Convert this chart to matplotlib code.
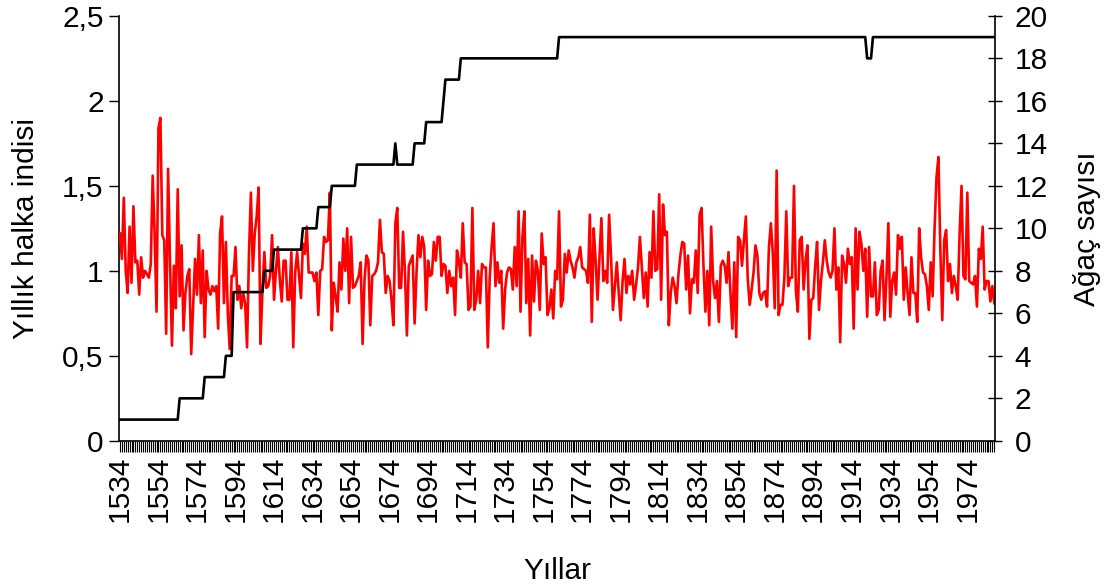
import numpy as np
import matplotlib
matplotlib.use("Agg")
import matplotlib.pyplot as plt
from matplotlib.ticker import FuncFormatter, MultipleLocator

plt.rcParams['font.family'] = ['Liberation Sans', 'DejaVu Sans']

# yearly ring index (1534 - 1988), one row per decade
ring = [
    1.22, 1.07, 1.43, 1.00, 0.87, 1.26,                              # 1534-1539
    0.93, 1.38, 1.05, 1.06, 0.86, 1.08, 0.96, 1.00, 0.98, 0.96,      # 1540
    1.04, 1.56, 1.22, 0.76, 1.84, 1.90, 1.21, 1.18, 0.63, 1.60,      # 1550
    1.05, 0.56, 1.03, 0.78, 1.48, 0.85, 1.15, 0.65, 0.87, 0.97,      # 1560
    1.01, 0.51, 0.79, 1.07, 0.86, 1.21, 0.81, 1.12, 0.61, 1.00,      # 1570
    0.89, 0.86, 0.91, 0.88, 0.91, 0.66, 1.22, 1.32, 0.81, 1.17,      # 1580
    0.75, 0.54, 0.97, 0.97, 1.14, 0.83, 0.91, 0.78, 0.87, 0.81,      # 1590
    0.55, 1.10, 1.46, 1.00, 1.22, 1.32, 1.49, 0.57, 0.89, 1.11,      # 1600
    0.90, 0.91, 0.97, 1.21, 0.83, 1.00, 1.14, 0.95, 0.82, 1.06,      # 1610
    1.06, 0.83, 0.83, 1.11, 0.55, 0.99, 1.11, 0.97, 0.84, 1.16,      # 1620
    1.10, 1.26, 0.99, 0.99, 0.99, 0.94, 0.99, 0.74, 1.00, 1.01,      # 1630
    1.20, 1.17, 1.18, 1.46, 0.65, 0.93, 0.85, 0.76, 1.05, 0.89,      # 1640
    1.19, 1.00, 1.25, 0.81, 1.20, 0.90, 0.91, 0.94, 0.97, 1.05,      # 1650
    0.57, 0.95, 1.09, 1.06, 0.68, 0.97, 0.98, 1.00, 1.05, 1.30,      # 1660
    1.11, 1.10, 0.87, 0.97, 0.94, 0.83, 0.68, 1.28, 1.37, 0.90,      # 1670
    0.90, 1.23, 0.99, 0.62, 1.03, 1.06, 1.09, 0.69, 0.99, 1.21,      # 1680
    1.08, 1.20, 1.14, 0.77, 1.06, 0.97, 0.98, 1.17, 1.06, 1.20,      # 1690
    1.20, 0.97, 1.04, 1.03, 0.87, 1.00, 0.91, 0.96, 0.74, 1.12,      # 1700
    1.06, 0.96, 1.28, 1.05, 1.04, 0.77, 0.79, 1.37, 0.77, 0.83,      # 1710
    1.00, 0.81, 1.04, 1.02, 1.02, 0.55, 0.96, 1.14, 1.28, 0.91,      # 1720
    1.05, 0.93, 1.00, 0.66, 0.89, 0.99, 1.02, 1.01, 0.89, 1.14,      # 1730
    0.91, 1.35, 0.76, 1.20, 1.35, 0.81, 1.07, 0.62, 1.09, 0.82,      # 1740
    1.06, 1.00, 0.77, 1.22, 1.04, 1.08, 0.74, 0.78, 0.89, 0.72,      # 1750
    1.00, 0.95, 1.35, 0.79, 0.83, 1.10, 0.99, 1.12, 1.06, 1.02,      # 1760
    0.96, 1.05, 1.08, 1.14, 1.02, 1.01, 1.00, 0.93, 1.33, 0.70,      # 1770
    1.25, 1.06, 0.83, 1.08, 1.31, 0.94, 1.00, 0.93, 1.33, 1.08,      # 1780
    0.77, 0.91, 1.05, 0.87, 0.71, 0.94, 1.07, 0.87, 0.97, 0.92,      # 1790
    1.00, 0.83, 0.92, 1.02, 1.20, 1.02, 0.84, 0.99, 0.79, 1.11,      # 1800
    0.96, 1.35, 1.00, 1.01, 1.45, 0.83, 1.39, 1.21, 1.23, 0.68,      # 1810
    0.87, 0.96, 0.91, 0.81, 0.98, 1.09, 1.17, 1.16, 0.89, 1.09,      # 1820
    0.75, 0.95, 0.93, 1.12, 0.87, 1.33, 1.37, 1.03, 0.76, 1.00,      # 1830
    0.68, 1.26, 0.94, 0.84, 0.94, 0.70, 1.03, 1.06, 1.03, 0.93,      # 1840
    1.11, 0.87, 0.66, 1.05, 0.61, 1.20, 1.18, 1.03, 1.18, 1.32,      # 1850
    0.95, 0.80, 0.89, 0.99, 1.15, 1.09, 0.87, 0.83, 0.87, 0.88,      # 1860
    0.79, 1.14, 1.28, 1.10, 0.78, 1.59, 0.74, 0.80, 0.80, 0.96,      # 1870
    1.35, 0.91, 0.96, 0.96, 1.50, 0.88, 0.76, 1.18, 1.20, 0.89,      # 1880
    1.06, 1.15, 0.60, 0.83, 0.84, 1.03, 1.17, 0.77, 0.94, 1.05,      # 1890
    1.18, 1.06, 0.99, 0.96, 1.00, 1.25, 0.89, 1.02, 0.58, 1.09,      # 1900
    1.04, 0.93, 1.13, 1.04, 1.08, 0.66, 1.25, 0.89, 1.23, 1.16,      # 1910
    1.00, 1.13, 0.73, 1.14, 0.85, 0.85, 1.05, 0.74, 0.77, 1.00,      # 1920
    1.06, 0.71, 0.96, 1.28, 0.73, 0.94, 0.99, 0.86, 1.21, 1.13,      # 1930
    1.20, 0.83, 1.02, 0.87, 0.74, 1.08, 0.87, 0.87, 0.70, 1.25,      # 1940
    1.08, 0.99, 0.98, 0.91, 0.77, 1.05, 0.85, 1.25, 1.55, 1.67,      # 1950
    1.12, 0.71, 1.18, 1.24, 0.94, 1.04, 0.87, 0.97, 0.91, 0.83,      # 1960
    1.22, 1.50, 0.97, 0.95, 1.46, 0.94, 0.93, 0.92, 0.97, 0.79,      # 1970
    1.13, 1.07, 1.26, 0.89, 0.94, 0.94, 0.82, 0.91, 0.81,            # 1980-1988
]

# number of trees: first year of each run and the count in that run
run_start = [1534, 1565, 1578, 1589, 1593, 1609, 1614, 1629, 1637, 1644, 1657,
             1677, 1678, 1687, 1693, 1702, 1703, 1711, 1762, 1922, 1925]
run_count = [1, 2, 3, 4, 7, 8, 9, 10, 11, 12, 13,
             14, 13, 14, 15, 16, 17, 18, 19, 18, 19]

first_year = 1534
last_year = 1988
years = np.arange(first_year, last_year + 1)
run_len = np.diff(run_start + [last_year + 1])
trees = np.repeat(run_count, run_len)

fs = 21.5

fig = plt.figure(figsize=(11.12, 5.87), dpi=100)
ax = fig.add_axes([0.107, 0.249, 0.788, 0.724])
ax.plot(years, ring, color='#ff0000', lw=1.9, zorder=3)

ax2 = ax.twinx()
ax2.plot(years, trees, color='black', lw=1.9)

ax.set_xlim(first_year - 0.5, last_year + 0.5)
ax.set_ylim(0, 2.5)
ax2.set_ylim(0, 20)

comma = FuncFormatter(lambda v, p: f"{v:g}".replace('.', ','))
ax.yaxis.set_major_locator(MultipleLocator(0.5))
ax.yaxis.set_major_formatter(comma)
ax2.yaxis.set_major_locator(MultipleLocator(2))

ax.set_xticks(np.arange(first_year, last_year + 1, 20))
ax.set_xticks(years, minor=True)
ax.tick_params(axis='x', which='both', length=8, width=0.8, direction='out',
               labelsize=fs, labelrotation=90, pad=3)
ax.tick_params(axis='y', length=7, width=1, labelsize=fs, pad=4)
ax2.tick_params(axis='y', length=10, width=1, direction='inout', labelsize=fs, pad=9)

for a in (ax, ax2):
    a.spines['top'].set_visible(False)
    for s in a.spines.values():
        s.set_linewidth(1.2)
ax2.spines['left'].set_visible(False)
ax2.spines['bottom'].set_visible(False)
ax.spines['right'].set_visible(False)

ax.set_xlabel('Yıllar', fontsize=fs, labelpad=25)
ax.set_ylabel('Yıllık halka indisi', fontsize=fs, labelpad=16)
ax2.set_ylabel('Ağaç sayısı', fontsize=fs, labelpad=18)

fig.savefig('out.png', dpi=100)
